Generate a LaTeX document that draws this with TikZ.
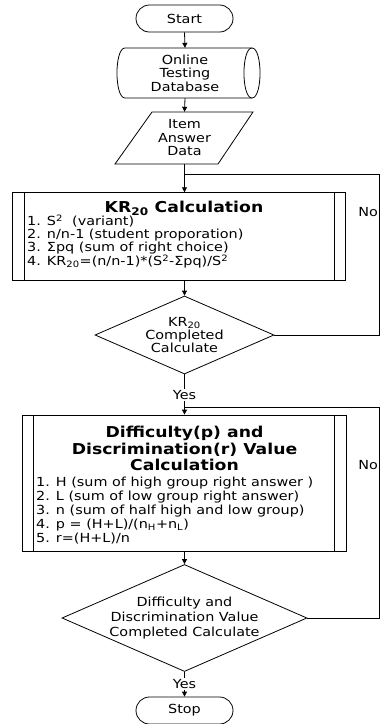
\documentclass[tikz,border=0pt]{standalone}
\usepackage{fontspec}
\setmainfont{DejaVu Sans}[FakeStretch=1.15]
\usetikzlibrary{shapes.geometric,arrows.meta,calc}
\begin{document}
\begin{tikzpicture}[x=1pt,y=-1pt,
  line/.style={draw=black, line width=0.8pt},
  arr/.style={line, -{Triangle[length=5pt,width=5pt]}},
  txt/.style={inner sep=0pt, align=center, font=\fontsize{12.5}{13.5}\selectfont},
  term/.style={line, rectangle, rounded corners=13.5pt, minimum width=97pt,
    minimum height=27pt, inner sep=0pt, font=\fontsize{12.5}{13.5}\selectfont},
  proc/.style={line, rectangle, inner sep=0pt},
  dec/.style={line, diamond, inner sep=0pt},
  ttl/.style={inner sep=0pt, align=center, font=\bfseries\fontsize{15}{16.5}\selectfont},
  items/.style={inner sep=0pt, anchor=west, align=left},
  lbl/.style={txt, fill=white, inner sep=1pt},
]
\useasboundingbox (0,0) rectangle (385,724);

% terminals
\node[term] (start) at (184.5,18.5) {Start};
\node[term] (stop) at (184.5,710.5) {Stop};

% stored data (online database)
\node[txt, minimum width=120pt, minimum height=50pt] (db) at (185,73) {Online\\Testing\\Database};
\draw[line] (125,48) -- (252,48) .. controls (262.7,48) and (262.7,98) .. (252,98)
  -- (125,98) .. controls (114.3,98) and (114.3,48) .. (125,48) -- cycle;
\draw[line] (252,48) .. controls (241.3,48) and (241.3,98) .. (252,98);

% input data
\node[txt, minimum width=70pt, minimum height=52pt] (data) at (184.5,138) {Item\\Answer\\Data};
\draw[line] (152,112) -- (253,112) -- (218,164) -- (115,164) -- cycle;

% KR20 process
\node[proc, minimum width=332.3pt, minimum height=87.3pt] (kr) at (178.85,236.35) {};
\draw[line] ($(kr.north west)+(12.3,0)$) -- ($(kr.south west)+(12.3,0)$);
\draw[line] ($(kr.north east)+(-11,0)$) -- ($(kr.south east)+(-11,0)$);
\node[ttl] (krtitle) at (184,208) {KR\textsubscript{20} Calculation};
\node[items, font=\fontsize{12.5}{12.7}\selectfont] (kritems) at (27,241.5) {%
  1. S\textsuperscript{2}\ \ (variant)\\
  2. n/n-1 (student proporation)\\
  3. Σpq (sum of right choice)\\
  4. KR\textsubscript{20}=(n/n-1)*(S\textsuperscript{2}-Σpq)/S\textsuperscript{2}};

% KR20 decision
\node[dec, minimum width=179pt, minimum height=78pt] (d1) at (184.5,335) {};
\node[txt, font=\fontsize{12.5}{13}\selectfont] (d1t) at (184.5,335) {KR\textsubscript{20}\\Completed\\Calculate};

% difficulty / discrimination process
\node[proc, minimum width=323.3pt, minimum height=136.7pt] (dv) at (184.35,483.35) {};
\draw[line] ($(dv.north west)+(11.3,0)$) -- ($(dv.south west)+(11.3,0)$);
\draw[line] ($(dv.north east)+(-12,0)$) -- ($(dv.south east)+(-12,0)$);
\node[ttl] (dvtitle) at (184.5,448.5) {Difficulty(p) and\\Discrimination(r) Value\\Calculation};
\node[items, font=\fontsize{12.5}{14.2}\selectfont] (dvitems) at (36,510.5) {%
  1. H (sum of high group right answer )\\
  2. L (sum of low group right answer)\\
  3. n (sum of half high and low group)\\
  4. p = (H+L)/(n\textsubscript{H}+n\textsubscript{L})\\
  5. r=(H+L)/n};

% final decision
\node[dec, minimum width=245pt, minimum height=107pt] (d2) at (184.5,618) {};
\node[txt, font=\fontsize{12.5}{14.8}\selectfont] (d2t) at (184.5,618) {Difficulty and\\Discrimination Value\\Completed Calculate};

% loop junctions
\coordinate (j1) at (184.5,174);
\coordinate (r1) at (379,174);
\coordinate (j2) at (184.5,407.7);
\coordinate (r2) at (379,407.7);

% connectors
\draw[arr] (start.south) -- (db.north);
\draw[arr] (db.south) -- (data.north);
\draw[arr] (data.south) -- (data.south |- kr.north);
\draw[arr] (kr.south -| d1.north) -- (d1.north);
\draw[arr] (d1.south) -- (d1.south |- dv.north);
\draw[arr] (dv.south -| d2.north) -- (d2.north);
\draw[arr] (d2.south) -- (stop.north);
\draw[line] (d1.east) -| (r1) -- (j1);
\draw[line] (d2.east) -| (r2) -- (j2);

% branch labels
\node[lbl] (yes1) at (184.5,395) {Yes};
\node[lbl] (yes2) at (184.5,684) {Yes};
\node[txt, anchor=east] (no1) at (378,212) {No};
\node[txt, anchor=east] (no2) at (378,465) {No};
\end{tikzpicture}
\end{document}
